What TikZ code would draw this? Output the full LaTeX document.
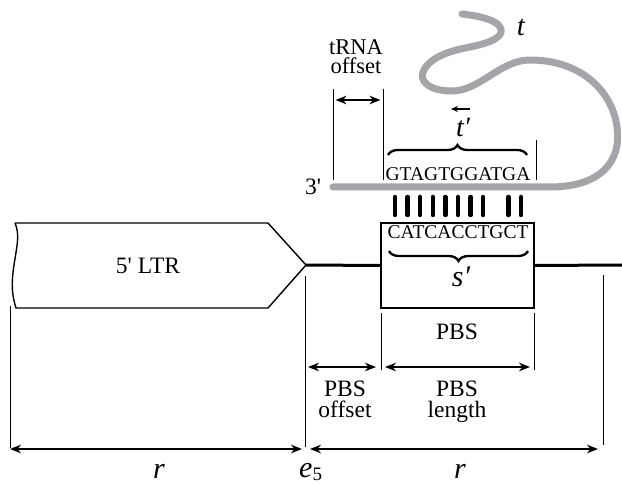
\documentclass[tikz,border=0pt]{standalone}
\usepackage{fontspec}
\setmainfont{Liberation Serif}
\usetikzlibrary{arrows.meta,decorations.pathreplacing,calc}
\definecolor{strand}{RGB}{163,165,168}
\begin{document}
\begin{tikzpicture}[x=1pt,y=-1pt,
  lbl/.style={font=\fontsize{23.5}{21}\selectfont, align=center, inner sep=0pt},
  lline/.style={font=\fontsize{22.5}{21}\selectfont, inner sep=0pt, anchor=base},
  seq/.style={font=\fontsize{19.5}{19.5}\selectfont, inner sep=0pt},
  var/.style={font=\fontsize{30}{30}\selectfont\itshape, inner sep=0pt},
  guide/.style={line width=1pt},
  dimarrow/.style={line width=2pt, {Stealth[length=11pt,width=8.5pt]}-{Stealth[length=11pt,width=8.5pt]}},
  pairbar/.style={line width=4.5pt, line cap=round},
  bracestyle/.style={decorate, decoration={brace, amplitude=10pt}, line width=2.3pt}]
\useasboundingbox (0,0) rectangle (622,484);

% 5' LTR
\draw[line width=1.4pt] (15,223) -- (268,223) -- (306,265) -- (268,308) -- (16,308)
   .. controls (12,295) and (11,285) .. (14,265) .. controls (17,245) and (20,235) .. (15,223);
\coordinate (tip) at (306,265);
\node[lbl] (ltr) at (148,266) {5\textquotesingle{} LTR};

% PBS box and main line
\node[draw, line width=2pt, minimum width=153pt, minimum height=85pt, inner sep=0pt] (pbs) at (457.5,265.5) {};
\coordinate (rend) at (622,265);
\draw[line width=3pt] (tip) -- (pbs.west);
\draw[line width=3pt] (pbs.east) -- (rend);

\node[seq] (cat) at (458,232) {CATCACCTGCT};
\draw[bracestyle] (528,251) -- (389,251);
\node[var] (sp) at (461,277) {s′};

% base pair bars
\foreach \i in {0,...,7,9,10} {
  \draw[pairbar] ({395+12.6*\i},197) -- ({395+12.6*\i},215);
}

% tRNA strand
\node[lbl] (three) at (313,187) {3\textquotesingle};
\coordinate (sstart) at (333,187);
\draw[strand, line width=7pt, line cap=round] (sstart) -- (550,187)
   .. controls (600,187) and (622,162) .. (617,127)
   .. controls (612,90) and (580,60) .. (530,60)
   .. controls (500,60) and (480,91) .. (452,91)
   .. controls (428,91) and (418,80) .. (424,70)
   .. controls (432,55) and (455,50) .. (470,47)
   .. controls (495,42) and (505,35) .. (500,27)
   .. controls (496,20) and (480,16) .. (462,14);
\node[var, font=\fontsize{29}{29}\selectfont\itshape] (tl) at (521,27) {t};

\node[seq] (gta) at (458,174) {GTAGTGGATGA};
\draw[bracestyle] (388,155) -- (527,155);
\node[var, font=\fontsize{28}{28}\selectfont\itshape] (tp) at (463,127) {t′};
\coordinate (tpa) at (470,109);
\coordinate (tpb) at (451,109);
\draw[line width=1.4pt, -{Stealth[length=7pt,width=6pt]}] (tpa) -- (tpb);
\draw[guide] (536,140) -- (536,180);

% tRNA offset
\node[lline] (trna1) at (356,55) {tRNA};
\node[lline] (trna2) at (356,74) {offset};
\draw[guide] (333,89) -- (333,180);
\draw[guide] (383,89) -- (383,180);
\coordinate (ta) at (333,100);
\coordinate (tb) at (383,100);
\draw[dimarrow, shorten <=2.5pt, shorten >=2.5pt] (ta) -- (tb);

% lower guides
\draw[guide] (10,306) -- (10,448);
\draw[guide] (305,276) -- (305,447);
\draw[guide] (603,275) -- (603,445);
\draw[guide] (381,313) -- (381,370);
\draw[guide] (534,313) -- (534,370);

\node[lbl] (pbsl) at (457,332) {PBS};
\coordinate (oa) at (305,367);
\coordinate (ob) at (381,367);
\coordinate (lb) at (534,367);
\draw[dimarrow, shorten <=3pt, shorten >=5pt] (oa) -- (ob);
\draw[dimarrow, shorten <=4pt, shorten >=4pt] (ob) -- (lb);
\node[lline, font=\fontsize{23.5}{21}\selectfont] (off1) at (345,396) {PBS};
\node[lline, font=\fontsize{23.5}{21}\selectfont] (off2) at (345,417) {offset};
\node[lline, font=\fontsize{23.5}{21}\selectfont] (len1) at (457,396) {PBS};
\node[lline, font=\fontsize{23.5}{21}\selectfont] (len2) at (457,417) {length};

% r arrows
\coordinate (ra) at (10,449);
\coordinate (rb) at (305,449);
\coordinate (rc) at (603,449);
\draw[dimarrow, shorten <=0pt, shorten >=3pt] (ra) -- (rb);
\draw[dimarrow, shorten <=5pt, shorten >=5pt] (rb) -- (rc);
\node[var, anchor=base] (r1) at (159,478) {r};
\node[var, anchor=base] (r2) at (460,478) {r};
\node[var, anchor=base west] (e5) at (299,477) {e\raisebox{-3pt}{\upshape\fontsize{19}{19}\selectfont 5}};
\end{tikzpicture}
\end{document}
